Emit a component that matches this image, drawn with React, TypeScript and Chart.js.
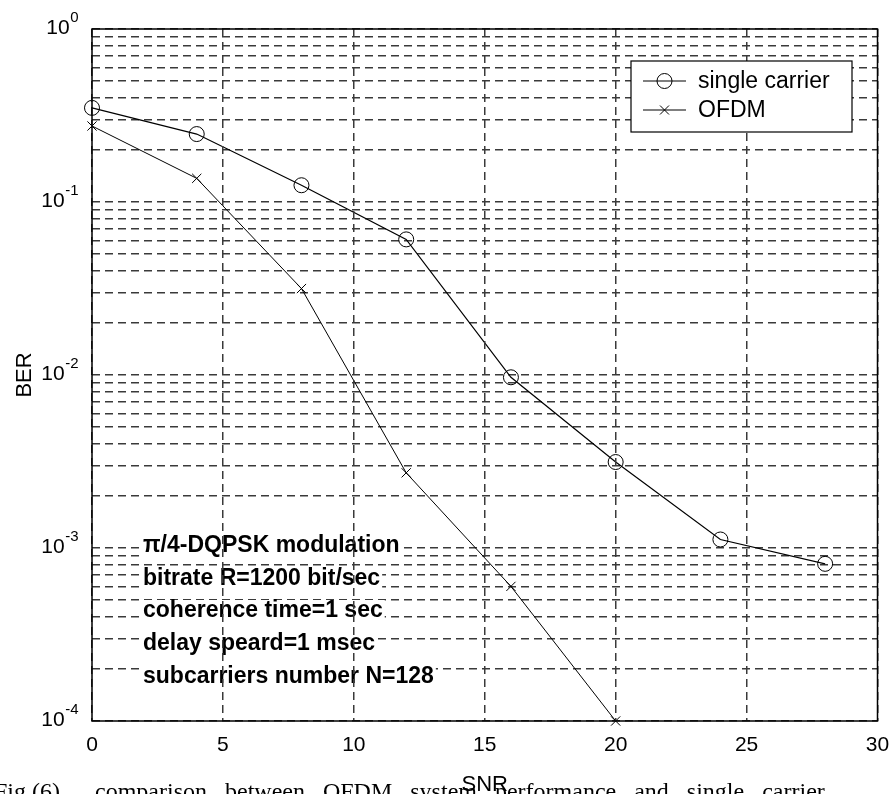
import { useEffect, useRef } from 'react';
import { Chart, registerables } from 'chart.js';

Chart.register(...registerables);

// ---- data ----
const snrSingle = [0, 4, 8, 12, 16, 20, 24, 28];
const berSingle = [0.35, 0.247, 0.125, 0.0608, 0.0097, 0.00314, 0.00112, 0.00081];
const snrOfdm = [0, 4, 8, 12, 16, 20];
const berOfdm = [0.275, 0.137, 0.0316, 0.00272, 0.0006, 0.0001];
const seriesNames = ['single carrier', 'OFDM'];
const xTickValues = [0, 5, 10, 15, 20, 25, 30];
const yDecades = [0, -1, -2, -3, -4];
const yMinorSteps = [1, 2, 3, 4, 5, 6, 7, 8, 9];
const xTitle = 'SNR';
const yTitle = 'BER';
const notes = [
  'π/4-DQPSK modulation',
  'bitrate R=1200 bit/sec',
  'coherence time=1 sec',
  'delay speard=1 msec',
  'subcarriers number N=128',
];
const captionLead = 'Fig.(6)';
const captionRest = 'comparison between OFDM system performance and single carrier';

const W = 890;
const H = 794;
const SANS = '"Liberation Sans", Arial, sans-serif';
const SERIF = '"Liberation Serif", "Times New Roman", serif';

const gridValues: number[] = [];
for (let d = Math.min(...yDecades); d < Math.max(...yDecades); d++) {
  for (const s of yMinorSteps) gridValues.push(+(s * Math.pow(10, d)).toPrecision(6));
}
gridValues.push(Math.pow(10, Math.max(...yDecades)));

function drawMarker(ctx: CanvasRenderingContext2D, kind: string, x: number, y: number) {
  ctx.save();
  ctx.strokeStyle = '#000';
  ctx.lineWidth = 1;
  ctx.beginPath();
  if (kind === 'circle') {
    ctx.arc(x, y, 7.5, 0, Math.PI * 2);
  } else {
    const r = 4.5;
    ctx.moveTo(x - r, y - r);
    ctx.lineTo(x + r, y + r);
    ctx.moveTo(x - r, y + r);
    ctx.lineTo(x + r, y - r);
  }
  ctx.stroke();
  ctx.restore();
}

const decor = {
  id: 'decor',
  beforeDatasetsDraw(chart: any) {
    const ctx: CanvasRenderingContext2D = chart.ctx;
    const a = chart.chartArea;
    ctx.save();
    ctx.font = 'bold 23px ' + SANS;
    ctx.textBaseline = 'middle';
    ctx.textAlign = 'left';
    const x0 = a.left + 51;
    const rows = [546, 579, 611, 644, 677];
    notes.forEach((t, i) => {
      const w = ctx.measureText(t).width;
      ctx.fillStyle = '#fff';
      ctx.fillRect(x0 - 2, rows[i] - 11, w + 4, 22);
      ctx.fillStyle = '#000';
      ctx.fillText(t, x0, rows[i]);
    });
    ctx.restore();
  },
  afterDraw(chart: any) {
    const ctx: CanvasRenderingContext2D = chart.ctx;
    const a = chart.chartArea;
    const ys = chart.scales.y;
    ctx.save();
    // frame
    ctx.strokeStyle = '#000';
    ctx.lineWidth = 1.5;
    ctx.strokeRect(a.left, a.top, a.right - a.left, a.bottom - a.top);

    // y tick labels 10^k
    ctx.fillStyle = '#000';
    ctx.textBaseline = 'middle';
    for (const k of yDecades) {
      const py = ys.getPixelForValue(Math.pow(10, k));
      const exp = String(k);
      ctx.font = '15px ' + SANS;
      const ew = ctx.measureText(exp).width;
      const right = a.left - 14 - ew;
      ctx.font = '21px ' + SANS;
      ctx.textAlign = 'right';
      ctx.fillText('10', right, py - 1);
      ctx.font = '15px ' + SANS;
      ctx.textAlign = 'left';
      ctx.fillText(exp, right + 0.5, py - 11);
    }

    // legend
    const lx = 631, ly = 61, lw = 221, lh = 71;
    ctx.fillStyle = '#fff';
    ctx.fillRect(lx, ly, lw, lh);
    ctx.strokeStyle = '#000';
    ctx.lineWidth = 1.2;
    ctx.strokeRect(lx, ly, lw, lh);
    const rowsY = [ly + 20, ly + 49];
    const kinds = ['circle', 'cross'];
    seriesNames.forEach((name, i) => {
      ctx.beginPath();
      ctx.lineWidth = 1.2;
      ctx.moveTo(643, rowsY[i]);
      ctx.lineTo(686, rowsY[i]);
      ctx.stroke();
      drawMarker(ctx, kinds[i], 664.5, rowsY[i]);
      ctx.fillStyle = '#000';
      ctx.font = '23px ' + SANS;
      ctx.textAlign = 'left';
      ctx.textBaseline = 'middle';
      ctx.fillText(name, 698, rowsY[i] + 1);
    });

    // caption (partly cut off by page bottom)
    ctx.font = '24px ' + SERIF;
    ctx.textAlign = 'left';
    ctx.textBaseline = 'alphabetic';
    ctx.fillStyle = '#000';
    ctx.fillText(captionLead, -6, 799);
    (ctx as any).wordSpacing = '12px';
    ctx.fillText(captionRest, 95, 799);
    ctx.restore();
  },
};

export default function App() {
  const ref = useRef<HTMLCanvasElement>(null);
  useEffect(() => {
    document.body.style.margin = '0';
    const chart = new Chart(ref.current as HTMLCanvasElement, {
      type: 'line',
      data: {
        datasets: [
          {
            label: seriesNames[0],
            data: snrSingle.map((x, i) => ({ x, y: berSingle[i] })),
            borderColor: '#000',
            borderWidth: 1.2,
            pointStyle: 'circle',
            pointRadius: 7.5,
            pointBorderWidth: 1,
            pointBorderColor: '#000',
            pointBackgroundColor: 'rgba(0,0,0,0)',
            backgroundColor: 'rgba(0,0,0,0)',
            tension: 0,
            clip: false as any,
          },
          {
            label: seriesNames[1],
            data: snrOfdm.map((x, i) => ({ x, y: berOfdm[i] })),
            borderColor: '#000',
            borderWidth: 1,
            pointStyle: 'crossRot',
            pointRadius: 6.5,
            pointBorderWidth: 1,
            pointBorderColor: '#000',
            backgroundColor: 'rgba(0,0,0,0)',
            tension: 0,
            clip: false as any,
          },
        ],
      },
      options: {
        responsive: false,
        animation: false,
        events: [],
        layout: { padding: { top: 29, right: 0, left: 0, bottom: 0 } },
        plugins: { legend: { display: false }, tooltip: { enabled: false } },
        scales: {
          x: {
            type: 'linear',
            min: 0,
            max: 30,
            afterBuildTicks: (s: any) => {
              s.ticks = xTickValues.map((v) => ({ value: v }));
            },
            afterFit: (s: any) => {
              s.height = 73;
              s.paddingLeft = 0;
              s.paddingRight = 12.5;
            },
            ticks: {
              color: '#000',
              font: { family: SANS, size: 21 },
              padding: 12,
              maxRotation: 0,
              autoSkip: false,
            },
            grid: { color: '#3a3a3a', lineWidth: 1.5, drawTicks: false, z: 1 },
            border: { display: false, dash: [8, 5] },
            title: {
              display: true,
              text: xTitle,
              color: '#000',
              font: { family: SANS, size: 22 },
              padding: { top: 0, bottom: -4 },
            },
          },
          y: {
            type: 'logarithmic',
            min: 1e-4,
            max: 1,
            afterBuildTicks: (s: any) => {
              s.ticks = gridValues.map((v) => ({ value: v }));
            },
            afterFit: (s: any) => {
              s.width = 92;
            },
            ticks: { display: false, autoSkip: false },
            grid: { color: '#3a3a3a', lineWidth: 1.5, drawTicks: false },
            border: { display: false, dash: [8, 5] },
            title: {
              display: true,
              text: yTitle,
              color: '#000',
              font: { family: SANS, size: 22 },
              padding: { top: 12, bottom: 0 },
            },
          },
        },
      },
      plugins: [decor],
    });
    return () => chart.destroy();
  }, []);
  return (
    <div style={{ width: W, height: H, position: 'relative', background: '#fff' }}>
      <canvas ref={ref} width={W} height={H} style={{ display: 'block', width: W, height: H }} />
    </div>
  );
}
